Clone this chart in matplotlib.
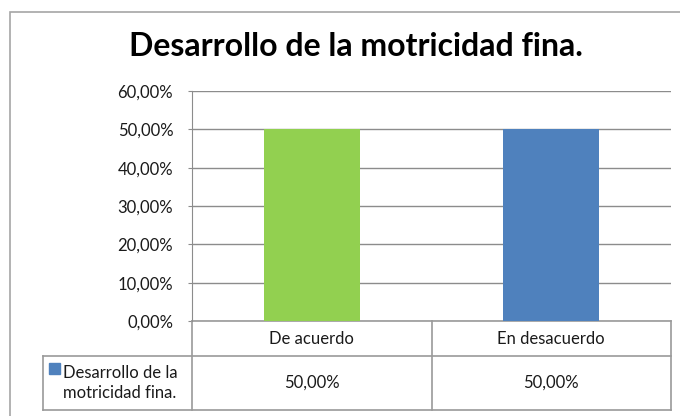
import matplotlib
matplotlib.use("Agg")
import matplotlib.pyplot as plt
from matplotlib.patches import Rectangle
from matplotlib.ticker import FuncFormatter

# Data
title = "Desarrollo de la motricidad fina."
categories = ["De acuerdo", "En desacuerdo"]
values = [0.50, 0.50]
value_labels = ["50,00%", "50,00%"]
series_name = "Desarrollo de la\nmotricidad fina."
bar_colors = ["#92D050", "#4F81BD"]
yticks = [0.0, 0.1, 0.2, 0.3, 0.4, 0.5, 0.6]

plt.rcParams['font.family'] = ['Lato', 'DejaVu Sans']
line_color = "#9a9a9a"
txt_color = "#1a1a1a"

fig = plt.figure(figsize=(6.8, 4.16), dpi=100)

# outer chart frame (cropped at right and bottom)
fig.patches.append(Rectangle((10 / 680, -0.1), 1.2, (416 - 12) / 416 + 0.1,
                             transform=fig.transFigure, fill=False,
                             edgecolor="#a6a6a6", linewidth=1.2))

fig.text(356 / 680, (416 - 46) / 416, title, ha='center', va='center',
         fontsize=23, fontweight='bold', color='black')

ax = fig.add_axes([192 / 680, (416 - 321) / 416, 479 / 680, 230 / 416])
x = list(range(len(categories)))
ax.bar(x, values, width=0.4, color=bar_colors, zorder=3)
ax.set_xlim(-0.5, len(categories) - 0.5)
ax.set_ylim(0, 0.6)
ax.set_yticks(yticks)
ax.yaxis.set_major_formatter(FuncFormatter(lambda v, p: f"{v * 100:.2f}%".replace('.', ',')))
ax.grid(axis='y', color="#8c8c8c", linewidth=1, zorder=0)
ax.set_xticks([])
for s in ['top', 'right', 'bottom']:
    ax.spines[s].set_visible(False)
ax.spines['left'].set_color("#8c8c8c")
ax.tick_params(axis='y', length=3, color="#8c8c8c", pad=10.5, labelsize=12,
               labelcolor=txt_color)

# data table under the plot
h1 = 35 / 230
h2 = 89 / 230
lab_w = (192 - 43) / 479
kw = dict(transform=ax.transAxes, color=line_color, linewidth=1.2, clip_on=False)
ax.plot([0, 1], [0, 0], **kw)
ax.plot([-lab_w, 1], [-h1, -h1], **kw)
ax.plot([-lab_w, 1], [-h2, -h2], **kw)
ax.plot([-lab_w, -lab_w], [-h1, -h2], **kw)
for xv in [0, 0.5, 1]:
    ax.plot([xv, xv], [0, -h2], **kw)

for i, cat in enumerate(categories):
    xc = (i + 0.5) / len(categories)
    ax.text(xc, -h1 / 2, cat, transform=ax.transAxes, ha='center', va='center',
            fontsize=12, color=txt_color)
    ax.text(xc, -(h1 + h2) / 2, value_labels[i], transform=ax.transAxes,
            ha='center', va='center', fontsize=12, color=txt_color)

ax.add_patch(Rectangle((-lab_w + 6 / 479, -(h1 + h2) / 2 + 9 / 230), 11 / 479, 11 / 230,
                       transform=ax.transAxes, color=bar_colors[1], clip_on=False))
ax.text(-lab_w + 20 / 479, -(h1 + h2) / 2, series_name, transform=ax.transAxes,
        ha='left', va='center', fontsize=12, linespacing=1.35, color=txt_color)

fig.savefig("out.png", dpi=100)
